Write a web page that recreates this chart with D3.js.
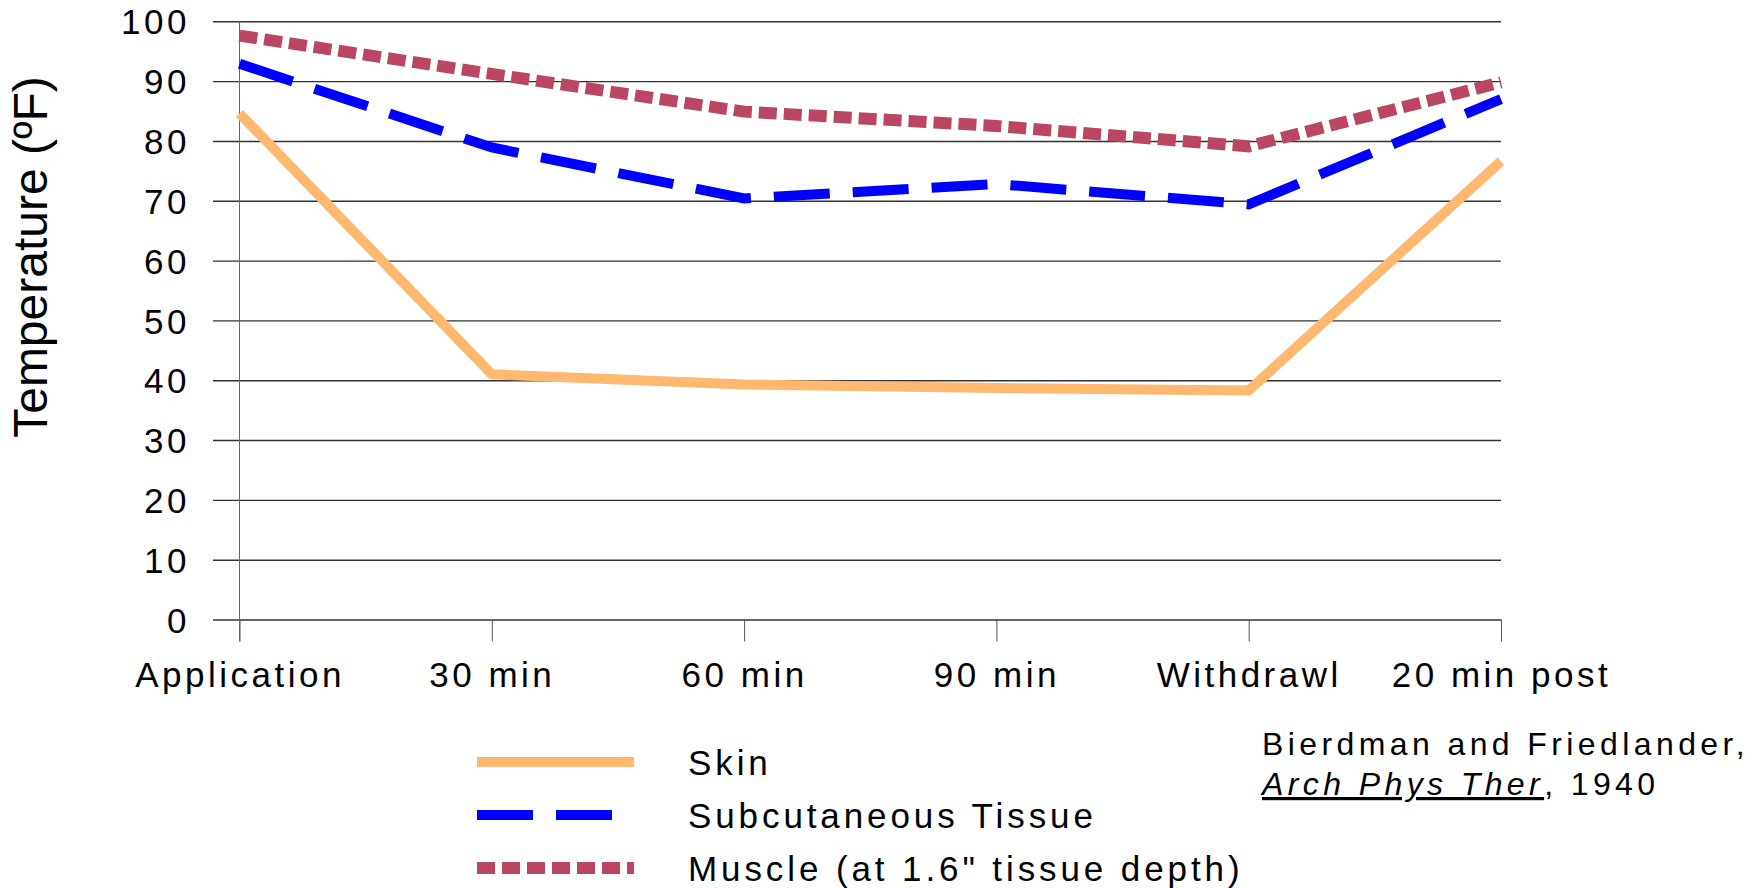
<!DOCTYPE html>
<html>
<head>
<meta charset="utf-8">
<script src="https://cdn.jsdelivr.net/npm/d3@7"></script>
<style>
  body { margin: 0; background: #fff; }
  .axis text { font-family: "Liberation Sans", Arial, sans-serif; font-size: 35px; fill: #000; letter-spacing: 3.5px; }
  .label { font-family: "Liberation Sans", Arial, sans-serif; font-size: 48px; fill: #000; }
  .legend { font-family: "Liberation Sans", Arial, sans-serif; font-size: 35px; fill: #000; letter-spacing: 3.9px; }
  .cite { font-family: "Liberation Sans", Arial, sans-serif; font-size: 32px; fill: #000; letter-spacing: 4.4px; }
</style>
</head>
<body>
<div id="chart"></div>
<script>

// data
var categories = ["Application", "30 min", "60 min", "90 min", "Withdrawl", "20 min post"];
var skin = [84.6, 41.0, 39.3, 38.7, 38.3, 76.6];
var subcutaneous = [92.9, 78.9, 70.4, 72.8, 69.4, 87.0];
var muscle = [97.6, 91.2, 84.9, 82.5, 79.1, 89.8];
var yTicks = [0, 10, 20, 30, 40, 50, 60, 70, 80, 90, 100];
var seriesNames = ["Skin", "Subcutaneous Tissue", "Muscle (at 1.6\" tissue depth)"];

var params = {
    width: 1762,
    height: 888,
    x0: 239.5,
    x1: 1501,
    gridLeft: 213,
    y0: 619.5,
    y100: 21.3
};

var styles = [
    { color: "#ffb870", width: 10, dash: null },
    { color: "#0000ff", width: 10, dash: "56,23" },
    { color: "#bb4664", width: 12, dash: "18,7" }
];

var series = [skin, subcutaneous, muscle];

var svg = d3.select("#chart")
            .append("svg")
            .attr("width", params.width)
            .attr("height", params.height);

var x = d3.scalePoint().domain(categories).range([params.x0, params.x1]);
var y = d3.scaleLinear().domain([0, 100]).range([params.y0, params.y100]);

// gridlines + y labels (axis placed on the right edge, ticks running left)
var y_axis = d3.axisLeft(y)
               .tickValues(yTicks)
               .tickSize(params.x1 - params.gridLeft)
               .tickPadding(23);

var gy = svg.append("g")
    .attr("class", "axis")
    .attr("transform", "translate(" + params.x1 + ",0)")
    .call(y_axis);
gy.select(".domain").remove();
gy.selectAll(".tick line").attr("stroke", "#333").attr("stroke-width", 1.4);
gy.selectAll(".tick text").attr("dy", "0.36em");

// x axis ticks and labels
var x_axis = d3.axisBottom(x).tickSize(22).tickPadding(21);

var gx = svg.append("g")
    .attr("class", "axis")
    .attr("transform", "translate(0," + params.y0 + ")")
    .call(x_axis);
gx.select(".domain").remove();
gx.selectAll(".tick line").attr("stroke", "#555").attr("stroke-width", 1);

// vertical axis line
svg.append("line")
    .attr("x1", x(categories[0])).attr("x2", x(categories[0]))
    .attr("y1", y(100)).attr("y2", params.y0 + 22)
    .attr("stroke", "#666")
    .attr("stroke-width", 1);

// y axis title
svg.append("text")
    .attr("class", "label")
    .attr("transform", "translate(47,257) rotate(-90)")
    .attr("text-anchor", "middle")
    .text("Temperature (ºF)");

// the three series
var line = d3.line()
    .x(function(d, i) { return x(categories[i]); })
    .y(function(d) { return y(d); });

series.forEach(function(s, k) {
    svg.append("path")
        .datum(s)
        .attr("fill", "none")
        .attr("stroke", styles[k].color)
        .attr("stroke-width", styles[k].width)
        .attr("stroke-dasharray", styles[k].dash)
        .attr("stroke-linejoin", "miter")
        .attr("d", line);
});

// legend
var legend = svg.selectAll(".legendrow")
    .data(seriesNames).enter()
    .append("g")
        .attr("class", "legendrow")
        .attr("transform", function(d, i) { return "translate(0," + (762 + i * 53) + ")"; });

legend.append("line")
    .attr("x1", 477).attr("x2", 634)
    .attr("stroke", function(d, i) { return styles[i].color; })
    .attr("stroke-width", function(d, i) { return styles[i].width; })
    .attr("stroke-dasharray", function(d, i) { return styles[i].dash; });

legend.append("text")
    .attr("class", "legend")
    .attr("x", 688)
    .attr("dy", "0.36em")
    .text(function(d) { return d; });

// citation
svg.append("text")
    .attr("class", "cite")
    .attr("x", 1262)
    .attr("y", 755)
    .text("Bierdman and Friedlander,");

var cite2 = svg.append("text")
    .attr("class", "cite")
    .attr("x", 1262)
    .attr("y", 795);
cite2.append("tspan")
    .attr("font-style", "italic")
    .attr("text-decoration", "underline")
    .text("Arch Phys Ther");
cite2.append("tspan").text(", 1940");

</script>
</body>
</html>
